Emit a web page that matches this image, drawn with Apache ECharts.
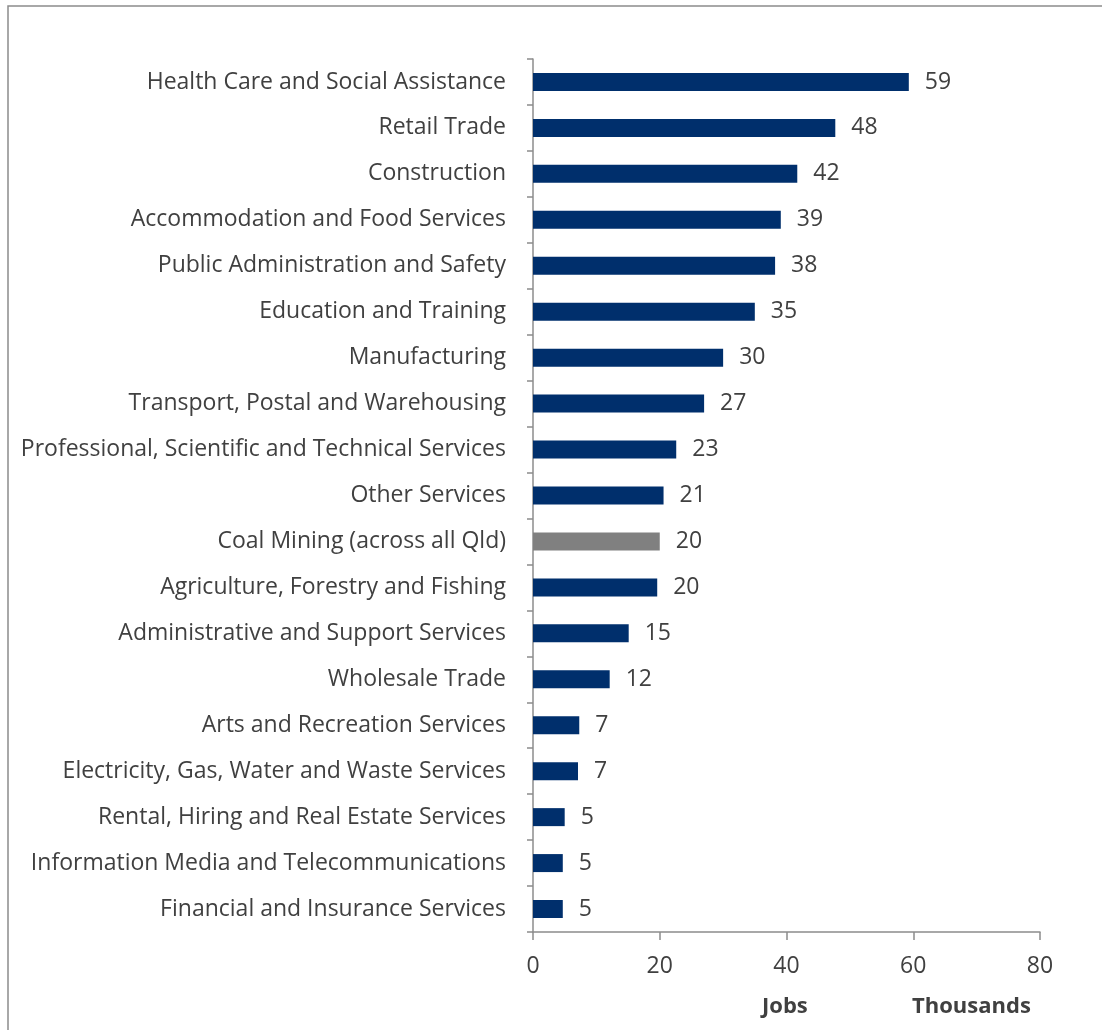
<!DOCTYPE html>
<html>
<head>
<meta charset="utf-8">
<script src="https://cdn.jsdelivr.net/npm/echarts@6/dist/echarts.min.js"></script>
<style>
  html, body { margin: 0; padding: 0; background: #ffffff; }
  #chart { width: 1102px; height: 1030px; }
</style>
</head>
<body>
<div id="chart"></div>
<script>
// Industries, listed top to bottom
const industries = [
  'Health Care and Social Assistance',
  'Retail Trade',
  'Construction',
  'Accommodation and Food Services',
  'Public Administration and Safety',
  'Education and Training',
  'Manufacturing',
  'Transport, Postal and Warehousing',
  'Professional, Scientific and Technical Services',
  'Other Services',
  'Coal Mining (across all Qld)',
  'Agriculture, Forestry and Fishing',
  'Administrative and Support Services',
  'Wholesale Trade',
  'Arts and Recreation Services',
  'Electricity, Gas, Water and Waste Services',
  'Rental, Hiring and Real Estate Services',
  'Information Media and Telecommunications',
  'Financial and Insurance Services'
];

// Jobs, thousands
const jobs = [59.3, 47.7, 41.7, 39.1, 38.2, 35.0, 30.0, 27.0, 22.6, 20.6,
              20.0, 19.6, 15.1, 12.1, 7.3, 7.1, 5.0, 4.7, 4.7];

const highlighted = 'Coal Mining (across all Qld)';
const xTicks = { min: 0, max: 80, step: 20 };

const NAVY = '#002F6C';
const GREY = '#808080';
const TEXT = '#404040';
const AXIS = '#8C8C8C';
const FONT = '"Open Sans", sans-serif';
const FS = 23;

const chart = echarts.init(document.getElementById('chart'));

// Category axis runs top-down, so reverse for ECharts' bottom-up ordering
const cats = industries.slice().reverse();
const vals = jobs.slice().reverse();

chart.setOption({
  animation: false,
  backgroundColor: '#ffffff',
  textStyle: { fontFamily: FONT },
  grid: { left: 533, right: 62, top: 59, bottom: 98, containLabel: false },
  graphic: [
    {
      type: 'rect',
      shape: { x: 8, y: 6, width: 1200, height: 1100 },
      style: { fill: 'none', stroke: AXIS, lineWidth: 1.5 },
      silent: true
    },
    {
      type: 'text',
      left: 762, top: 996,
      style: { text: 'Jobs', font: 'bold 22px ' + FONT, fill: TEXT }
    },
    {
      type: 'text',
      left: 912, top: 996,
      style: { text: 'Thousands', font: 'bold 22px ' + FONT, fill: TEXT }
    }
  ],
  xAxis: {
    type: 'value',
    min: xTicks.min,
    max: xTicks.max,
    interval: xTicks.step,
    axisLine: { show: true, lineStyle: { color: AXIS, width: 1.5 } },
    axisTick: { show: true, length: 8, lineStyle: { color: AXIS, width: 1.5 } },
    splitLine: { show: false },
    axisLabel: { color: TEXT, fontSize: FS, margin: 23, fontFamily: FONT }
  },
  yAxis: {
    type: 'category',
    data: cats,
    axisLine: { show: true, lineStyle: { color: AXIS, width: 1.5 } },
    axisTick: { show: true, length: 6, alignWithLabel: false, lineStyle: { color: AXIS, width: 1.5 } },
    axisLabel: { color: TEXT, fontSize: FS, margin: 27, fontFamily: FONT, padding: [4, 0, 0, 0] }
  },
  series: [{
    type: 'bar',
    barWidth: 18,
    data: vals.map((v, i) => ({
      value: v,
      itemStyle: { color: cats[i] === highlighted ? GREY : NAVY }
    })),
    label: {
      show: true,
      position: 'right',
      distance: 16,
      color: TEXT,
      fontSize: FS,
      fontFamily: FONT,
      padding: [4, 0, 0, 0],
      formatter: p => Math.round(p.value)
    }
  }]
});
</script>
</body>
</html>
